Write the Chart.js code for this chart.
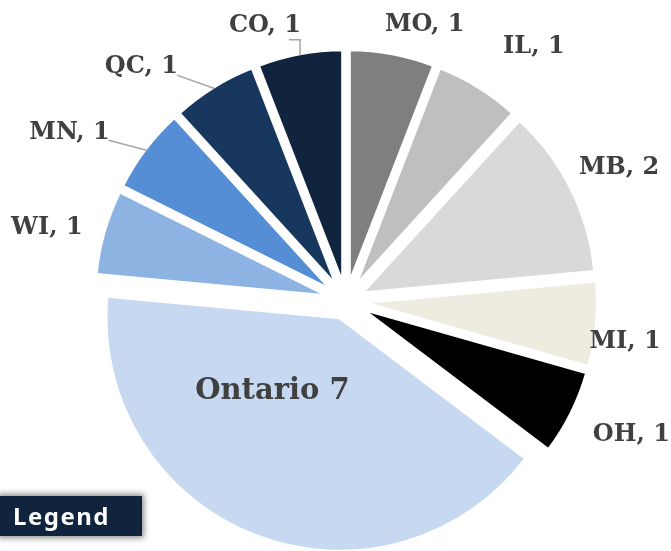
<!DOCTYPE html>
<html>
<head>
<meta charset="utf-8">
<script src="https://cdn.jsdelivr.net/npm/chart.js@4.4.1/dist/chart.umd.min.js"></script>
<style>
  html, body { margin: 0; padding: 0; background: #fff; }
  #wrap { position: relative; width: 671px; height: 551px; overflow: hidden; }
  #legendBtn {
    position: absolute; left: 0; top: 496px; width: 142px; height: 40px;
    background: #10243e; color: #fff;
    box-shadow: 0 0 6px 2px rgba(0,0,0,0.45);
    font: bold 24px "Noto Sans", sans-serif; letter-spacing: 1.5px;
    line-height: 40px; padding-left: 13px; box-sizing: border-box;
  }
</style>
</head>
<body>
<div id="wrap">
  <canvas id="pieChart" width="671" height="551"></canvas>
  <div id="legendBtn">Legend</div>
</div>
<script>
// 数据
const categories = ['MO', 'IL', 'MB', 'MI', 'OH', 'Ontario', 'WI', 'MN', 'QC', 'CO'];
const counts = [1, 1, 2, 1, 1, 7, 1, 1, 1, 1];
const sliceColors = ['#7f7f7f', '#bfbfbf', '#d9d9d9', '#eeece1', '#000000',
                     '#c6d9f1', '#8db3e2', '#558ed5', '#17375e', '#10243e'];

// 标签位置（相对每块扇形的角度偏移和距离）
const labelShift = [5.7, 5, 0.4, 3.2, -1.5, 21, -2.3, -6, -10, -6.2];
const labelDist = [269, 298, 286, 264, 297, 100, 290, 306, 293, 269];
const leaderType = [null, null, null, null, null, null, null, 'line', 'line', 'elbow'];

const explode = 18;

// 扇形外移
const explodePlugin = {
  id: 'explode',
  beforeDatasetsDraw(chart) {
    const ctx = chart.ctx;
    const meta = chart.getDatasetMeta(0);
    meta.data.forEach((arc) => {
      const mid = (arc.startAngle + arc.endAngle) / 2;
      ctx.save();
      ctx.translate(Math.cos(mid) * explode, Math.sin(mid) * explode);
      arc.draw(ctx);
      ctx.restore();
    });
    return false;
  },
  afterDraw(chart) {
    const ctx = chart.ctx;
    const meta = chart.getDatasetMeta(0);
    meta.data.forEach((arc, i) => {
      const mid = (arc.startAngle + arc.endAngle) / 2;
      const sx = arc.x + Math.cos(mid) * explode;
      const sy = arc.y + Math.sin(mid) * explode;
      const a = mid + labelShift[i] * Math.PI / 180;
      const lx = sx + Math.cos(a) * labelDist[i];
      const ly = sy + Math.sin(a) * labelDist[i];
      const isBig = categories[i] === 'Ontario';
      const text = isBig ? categories[i] + ' ' + counts[i] : categories[i] + ', ' + counts[i];
      ctx.save();
      ctx.font = isBig ? 'bold 29px "DejaVu Serif"' : 'bold 24px "DejaVu Serif"';
      ctx.fillStyle = '#404040';
      ctx.textAlign = 'center';
      ctx.textBaseline = 'middle';
      ctx.fillText(text, lx, ly);
      const w = ctx.measureText(text).width;

      // 引导线
      if (leaderType[i]) {
        const r = arc.outerRadius - 1.5;
        const ex = sx + Math.cos(mid) * r;
        const ey = sy + Math.sin(mid) * r;
        ctx.strokeStyle = '#a6a6a6';
        ctx.lineWidth = 1.5;
        ctx.beginPath();
        if (leaderType[i] === 'elbow') {
          const y0 = ly + 14;
          ctx.moveTo(lx + w / 2 - 12, y0);
          ctx.lineTo(ex, y0);
          ctx.lineTo(ex, ey);
        } else {
          ctx.moveTo(lx + w / 2 - 1, ly + 8);
          ctx.lineTo(ex, ey);
        }
        ctx.stroke();
      }
      ctx.restore();
    });
  }
};

new Chart(document.getElementById('pieChart'), {
  type: 'pie',
  data: {
    labels: categories,
    datasets: [{
      data: counts,
      backgroundColor: sliceColors,
      borderColor: '#ffffff',
      borderWidth: 3,
      hoverOffset: 0
    }]
  },
  options: {
    responsive: false,
    animation: false,
    events: [],
    radius: 233.5,
    layout: { padding: { left: 21, top: 51, right: 0, bottom: 0 } },
    plugins: {
      legend: { display: false },
      tooltip: { enabled: false }
    }
  },
  plugins: [explodePlugin]
});
</script>
</body>
</html>
